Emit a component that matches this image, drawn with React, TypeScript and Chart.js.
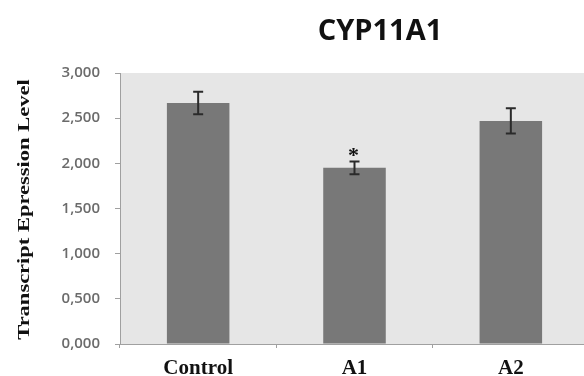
import { useEffect, useRef } from 'react';
import { Chart, registerables } from 'chart.js';

Chart.register(...registerables);

const categories = ['Control', 'A1', 'A2'];
const values = [2668, 1950, 2469];
const errors = [125, 70, 140];
const marks = ['', '*', ''];
const yTicks = [0, 500, 1000, 1500, 2000, 2500, 3000];
const yTickLabels = ['0,000', '0,500', '1,000', '1,500', '2,000', '2,500', '3,000'];
const chartTitle = 'CYP11A1';
const yAxisTitle = 'Transcript Epression Level';

const bgPlugin = {
  id: 'plotBg',
  beforeDraw(chart: any) {
    const { ctx, chartArea: a } = chart;
    ctx.save();
    ctx.fillStyle = '#e6e6e6';
    ctx.fillRect(a.left, a.top, a.right - a.left, a.bottom - a.top);
    ctx.restore();
  },
};

const errorPlugin = {
  id: 'errorBars',
  afterDatasetsDraw(chart: any) {
    const { ctx } = chart;
    const y = chart.scales.y;
    const meta = chart.getDatasetMeta(0);
    meta.data.forEach((bar: any, i: number) => {
      const x = bar.x;
      const top = y.getPixelForValue(values[i] + errors[i]);
      const bot = y.getPixelForValue(values[i] - errors[i]);
      ctx.save();
      ctx.strokeStyle = '#2a2a2a';
      ctx.lineWidth = 2;
      ctx.beginPath();
      ctx.moveTo(x, top);
      ctx.lineTo(x, bot);
      ctx.moveTo(x - 5, top);
      ctx.lineTo(x + 5, top);
      ctx.moveTo(x - 5, bot);
      ctx.lineTo(x + 5, bot);
      ctx.stroke();
      if (marks[i]) {
        ctx.fillStyle = '#111';
        ctx.font = 'bold 22px "Liberation Serif", serif';
        ctx.textAlign = 'center';
        ctx.textBaseline = 'alphabetic';
        ctx.fillText(marks[i], x - 1, top);
      }
      ctx.restore();
    });
  },
};

const textPlugin = {
  id: 'texts',
  afterDraw(chart: any) {
    const { ctx, chartArea: a } = chart;
    ctx.save();
    ctx.fillStyle = '#111';
    ctx.font = 'bold 29px "Open Sans", sans-serif';
    ctx.textAlign = 'center';
    ctx.textBaseline = 'alphabetic';
    ctx.fillText(chartTitle, 380, 40);
    ctx.restore();

    ctx.save();
    ctx.translate(25, (a.top + a.bottom) / 2 + 1);
    ctx.rotate(-Math.PI / 2);
    ctx.scale(1, 0.75);
    ctx.fillStyle = '#111';
    ctx.font = 'bold 22.5px "Liberation Serif", serif';
    ctx.textAlign = 'center';
    ctx.textBaseline = 'middle';
    ctx.fillText(yAxisTitle, 0, 0);
    ctx.restore();
  },
};

export default function App() {
  const ref = useRef<HTMLCanvasElement | null>(null);

  useEffect(() => {
    if (!ref.current) return;
    const chart = new Chart(ref.current, {
      type: 'bar',
      data: {
        labels: categories,
        datasets: [
          {
            data: values,
            backgroundColor: '#787878',
            borderWidth: 0,
            barPercentage: 0.4,
            categoryPercentage: 1,
          },
        ],
      },
      options: {
        responsive: false,
        animation: false,
        devicePixelRatio: 1,
        layout: { padding: { left: 0, right: 0, top: 73, bottom: 0 } },
        plugins: {
          legend: { display: false },
          tooltip: { enabled: false },
          title: { display: false },
        },
        scales: {
          x: {
            grid: {
              display: true,
              drawOnChartArea: false,
              drawTicks: true,
              tickLength: 4,
              color: '#a0a0a0',
              offset: true,
            },
            border: { color: '#a0a0a0', width: 1 },
            ticks: {
              color: '#111',
              font: { family: '"Liberation Serif", serif', size: 21, weight: 'bold' },
              padding: 8,
            },
            afterFit: (s: any) => {
              s.height = 32;
            },
          },
          y: {
            min: 0,
            max: 3000,
            afterBuildTicks: (s: any) => {
              s.ticks = yTicks.map((v) => ({ value: v }));
            },
            ticks: {
              callback: (_v: any, i: number) => yTickLabels[i],
              color: '#6b6b6b',
              font: { family: '"Open Sans", sans-serif', size: 15, weight: '600' },
              padding: 15,
            },
            grid: { drawOnChartArea: false, tickLength: 5, color: '#a0a0a0' },
            border: { color: '#a0a0a0', width: 1 },
            afterFit: (s: any) => {
              s.width = 120;
            },
          },
        },
      },
      plugins: [bgPlugin, errorPlugin, textPlugin],
    } as any);
    return () => chart.destroy();
  }, []);

  return (
    <div
      style={{
        position: 'fixed',
        left: 0,
        top: 0,
        width: 584,
        height: 376,
        overflow: 'hidden',
        background: '#fff',
      }}
    >
      <canvas ref={ref} width={589} height={376} style={{ display: 'block', width: 589, height: 376 }} />
    </div>
  );
}
